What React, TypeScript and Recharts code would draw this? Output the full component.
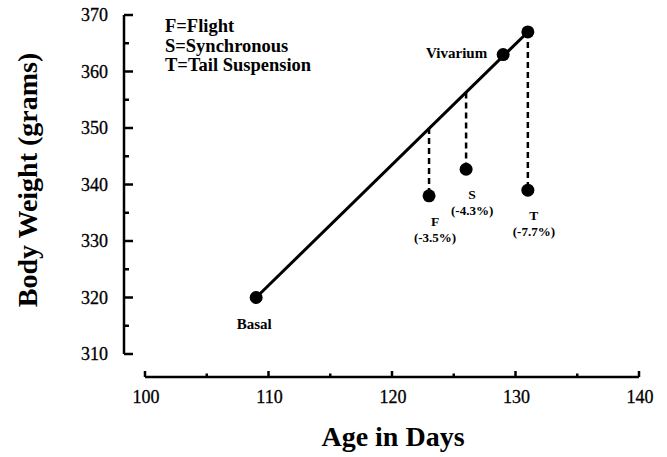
import React from "react"
import { ComposedChart, Line, Scatter, XAxis, YAxis } from "recharts"

// measured points (age in days, body weight in grams)
const ageDays = [109, 129, 131, 123, 126, 131]
const weights = [320, 363, 367, 338, 342.7, 339]
const labelTop = ["Basal", "Vivarium", "", "F", "S", "T"]
const labelBottom = ["", "", "", "(-3.5%)", "(-4.3%)", "(-7.7%)"]

// vivarium growth line
const trendAge = [109, 131]
const trendWeight = [320, 367]

// drops from the growth line to each group
const dropAge = [123, 126, 131]
const dropFrom = [350, 356.3, 367]
const dropTo = [338, 342.7, 339]

const xTicks = [100, 105, 110, 115, 120, 125, 130, 135, 140]
const yTicks = [310, 315, 320, 325, 330, 335, 340, 345, 350, 355, 360, 365, 370]
const legendLines = ["F=Flight", "S=Synchronous", "T=Tail Suspension"]

const W = 667
const H = 457
const PLOT_LEFT = 124
const PLOT_RIGHT = 639
const PLOT_TOP = 15
const PLOT_BOTTOM = 377
const PAD_LEFT = 21
const PAD_BOTTOM = 23
const X_LEN = PLOT_RIGHT - PLOT_LEFT - PAD_LEFT
const Y_LEN = PLOT_BOTTOM - PLOT_TOP - PAD_BOTTOM

const SERIF = "'Liberation Serif', 'Times New Roman', serif"

const points = ageDays.map((x, i) => ({ x, y: weights[i], top: labelTop[i], bottom: labelBottom[i] }))
const trend = trendAge.map((x, i) => ({ x, y: trendWeight[i] }))
const drops = dropAge.map((x, i) => [
  { x, y: dropFrom[i] },
  { x, y: dropTo[i] },
])

const XTick = (props: any) => {
  const { x, y, payload } = props
  const v = payload.value
  const major = v % 10 === 0
  return (
    <g>
      {v === xTicks[0] && <line x1={x} y1={y} x2={x + X_LEN} y2={y} stroke="#000" strokeWidth={2.5} />}
      <line x1={x} y1={y} x2={x} y2={y - (major ? 6 : 3.5)} stroke="#000" strokeWidth={2.5} />
      {major && (
        <text x={x + 1} y={y + 26} textAnchor="middle" fontFamily={SERIF} fontSize={18} fill="#000" stroke="#000" strokeWidth={0.3}>
          {v}
        </text>
      )}
    </g>
  )
}

const YTick = (props: any) => {
  const { x, y, payload } = props
  const v = payload.value
  const major = v % 10 === 0
  return (
    <g>
      {v === yTicks[0] && <line x1={x} y1={y} x2={x} y2={y - Y_LEN} stroke="#000" strokeWidth={2.5} />}
      <line x1={x} y1={y} x2={x + (major ? 9 : 5)} y2={y} stroke="#000" strokeWidth={2.5} />
      {major && (
        <text x={x - 16} y={y + 6} textAnchor="end" fontFamily={SERIF} fontSize={18} fill="#000" stroke="#000" strokeWidth={0.3}>
          {v}
        </text>
      )}
    </g>
  )
}

const PointShape = (props: any) => {
  const { cx, cy, payload } = props
  const label = payload.top
  let text = null
  if (label === "Basal") {
    text = (
      <text x={cx - 2} y={cy + 31} textAnchor="middle" fontSize={15} fontWeight="bold" fontFamily={SERIF}>
        {label}
      </text>
    )
  } else if (label === "Vivarium") {
    text = (
      <text x={cx - 16} y={cy + 3} textAnchor="end" fontSize={15} fontWeight="bold" fontFamily={SERIF}>
        {label}
      </text>
    )
  } else if (label) {
    text = (
      <g fontFamily={SERIF} fontWeight="bold" textAnchor="middle">
        <text x={cx + 6} y={cy + 30} fontSize={13.5}>
          {label}
        </text>
        <text x={cx + 6} y={cy + 46} fontSize={13}>
          {payload.bottom}
        </text>
      </g>
    )
  }
  return (
    <g>
      <circle cx={cx} cy={cy} r={6.5} fill="#000" />
      {text}
    </g>
  )
}

export default function App() {
  return (
    <div style={{ position: "absolute", left: 0, top: 0, width: W, height: H, background: "#fff" }}>
      <ComposedChart
        width={W}
        height={H}
        margin={{ top: PLOT_TOP, right: W - PLOT_RIGHT, bottom: 0, left: 0 }}
      >
        <XAxis
          type="number"
          dataKey="x"
          domain={[100, 140]}
          ticks={xTicks}
          interval={0}
          padding={{ left: PAD_LEFT, right: 0 }}
          axisLine={false}
          tickLine={false}
          tickSize={0}
          tickMargin={0}
          height={H - PLOT_BOTTOM}
          tick={<XTick />}
          allowDataOverflow
          label={{
            content: () => (
              <text x={393} y={446} textAnchor="middle" fontFamily={SERIF} fontWeight="bold" fontSize={28}>
                Age in Days
              </text>
            ),
          }}
        />
        <YAxis
          type="number"
          dataKey="y"
          domain={[310, 370]}
          ticks={yTicks}
          interval={0}
          padding={{ top: 0, bottom: PAD_BOTTOM }}
          axisLine={false}
          tickLine={false}
          tickSize={0}
          tickMargin={0}
          width={PLOT_LEFT}
          tick={<YTick />}
          allowDataOverflow
          label={{
            content: () => (
              <text
                x={37}
                y={180}
                transform="rotate(-90 37 180)"
                textAnchor="middle"
                fontFamily={SERIF}
                fontWeight="bold"
                fontSize={28}
              >
                Body Weight (grams)
              </text>
            ),
          }}
        />
        <Line
          data={trend}
          dataKey="y"
          stroke="#000"
          strokeWidth={3}
          dot={false}
          isAnimationActive={false}
        />
        {drops.map((d, i) => (
          <Line
            key={`drop-${i}`}
            data={d}
            dataKey="y"
            stroke="#000"
            strokeWidth={2.5}
            strokeDasharray="6 4"
            dot={false}
            isAnimationActive={false}
          />
        ))}
        <Scatter data={points} dataKey="y" shape={<PointShape />} isAnimationActive={false} />
      </ComposedChart>
      <div
        style={{
          position: "absolute",
          left: 165,
          top: 17,
          fontFamily: SERIF,
          fontWeight: "bold",
          fontSize: 18.5,
          lineHeight: "19.5px",
          color: "#000",
        }}
      >
        {legendLines.map((t) => (
          <div key={t}>{t}</div>
        ))}
      </div>
    </div>
  )
}
